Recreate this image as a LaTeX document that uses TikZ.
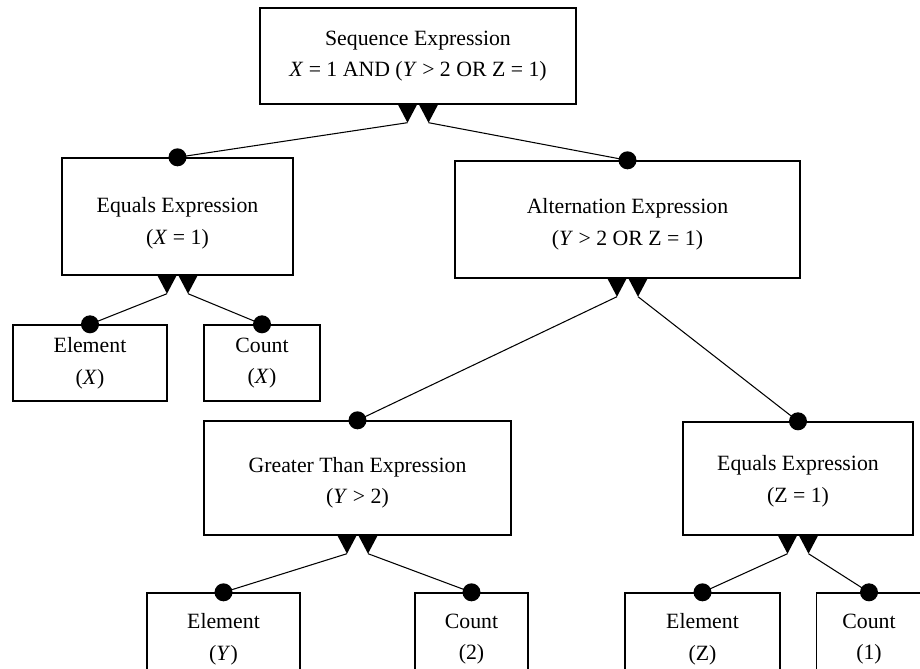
\documentclass[tikz,border=0pt]{standalone}
\usepackage{fontspec}
\setmainfont{Liberation Serif}
\usetikzlibrary{calc}

\tikzset{
  box/.style={draw, line width=0.8pt, inner sep=0pt, align=center,
    font=\fontsize{12.4}{18}\selectfont},
  link/.style={line width=0.6pt},
}

\begin{document}
\begin{tikzpicture}[x=0.02cm, y=-0.02cm]
  \useasboundingbox (0,0) rectangle (920,669);
  \clip (0,0) rectangle (920,669);
  % expression tree, one row at a time
  \node[box, minimum width=6.32cm, minimum height=1.92cm] (seq) at (418,56)
    {Sequence Expression\\\textit{X} = 1 AND (\textit{Y} > 2 OR Z = 1)};
  \node[box, minimum width=4.62cm, minimum height=2.34cm] (eqx) at (177.5,216.5)
    {\rule{0pt}{16pt}Equals Expression\\(\textit{X} = 1)};
  \node[box, minimum width=6.9cm, minimum height=2.34cm] (alt) at (627.5,219.5)
    {\rule{0pt}{14pt}Alternation Expression\\(\textit{Y} > 2 OR Z = 1)};
  \node[box, minimum width=3.08cm, minimum height=1.52cm] (elx) at (90,363)
    {Element\\(\textit{X})};
  \node[box, minimum width=2.32cm, minimum height=1.52cm] (cntx) at (262,363)
    {Count\\(\textit{X})};
  \node[box, minimum width=6.14cm, minimum height=2.28cm] (gt) at (357.5,478)
    {\rule{0pt}{14pt}Greater Than Expression\\(\textit{Y} > 2)};
  \node[box, minimum width=4.6cm, minimum height=2.26cm] (eqz) at (798,478.5)
    {\rule{0pt}{12pt}Equals Expression\\(Z = 1)};
  \node[box, minimum width=3.06cm, minimum height=1.84cm] (ely) at (223.5,639)
    {Element\\(\textit{Y})};
  \node[box, minimum width=2.26cm, minimum height=1.84cm] (cnt2) at (471.5,639)
    {Count\\(2)};
  \node[box, minimum width=3.1cm, minimum height=1.84cm] (elz) at (702.5,639)
    {Element\\(Z)};
  \node[box, minimum width=2.1cm, minimum height=1.84cm] (cnt1) at (869,639)
    {Count\\(1)};
  % triangles under each parent
  \foreach \p in {seq,eqx,alt,gt,eqz} {
    \coordinate (\p-l) at ($(\p.south)+(-10.5,18)$);
    \coordinate (\p-r) at ($(\p.south)+(10.5,18)$);
    \fill ($(\p.south)+(-20,0)$) -- ($(\p.south)+(-1,0)$) -- (\p-l) -- cycle;
    \fill ($(\p.south)+(1,0)$) -- ($(\p.south)+(20,0)$) -- (\p-r) -- cycle;
  }
  % links, dot on the child
  \foreach \c/\p in {eqx/seq-l, alt/seq-r, elx/eqx-l, cntx/eqx-r, gt/alt-l,
                     eqz/alt-r, ely/gt-l, cnt2/gt-r, elz/eqz-l, cnt1/eqz-r} {
    \draw[link] (\c.north) -- (\p);
    \fill (\c.north) circle (0.18cm);
  }
\end{tikzpicture}
\end{document}
